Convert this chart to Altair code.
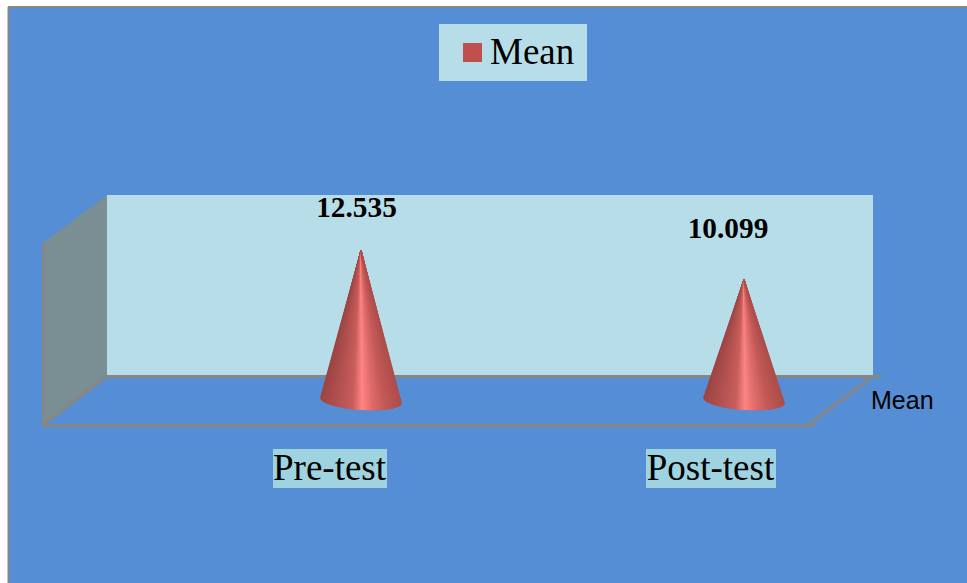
import altair as alt
import numpy as np
import pandas as pd

# Chart values
categories = ["Pre-test", "Post-test"]
means = [12.535, 10.099]
value_labels = ["12.535", "10.099"]
series_name = "Mean"

W, H = 967, 583
BLUE = "#558ed5"
PALE = "#b7dee8"
LABEL_BG = "#9fd3e0"
GREY = "#868686"
SIDE = "#7a8f94"
RED = "#c0504d"
SERIF = "Liberation Serif"

PX_PER_CAT = 383.0
PX_PER_UNIT = 12.0

shade_stops = [0.0, 0.2, 0.4, 0.52, 0.64, 0.8, 1.0]
shade_colors = ["#9c4544", "#b25250", "#ca5f5d", "#ff8585", "#e06e6d", "#c45a58", "#ae4e4c"]


def base_outline(t, depth=0.78, tilt=0.22):
    """Front edge of the elliptical base, in value units, for t in [-1, 1]."""
    return -tilt * t - depth * np.sqrt(1 - t**2)


def cone_outline(index, value, half_width=0.1057):
    """Silhouette of a cone: apex at the value, base around zero."""
    t = np.linspace(-1, 1, 81)
    rim = -0.22 * t
    return pd.DataFrame({
        "pos": index + t * half_width,
        "top": value * (1 - np.abs(t)) + rim * np.abs(t),
        "bottom": base_outline(t),
    })


def cone_fan(index, value, half_width=0.1057, n=260):
    """Lines fanning from the apex to the base, shaded by position around the cone."""
    t = np.linspace(-1, 1, n)
    return pd.DataFrame({
        "apex_pos": float(index),
        "apex_val": value,
        "foot_pos": index + t * half_width,
        "foot_val": base_outline(t),
        "shade": (t + 1) / 2,
    })


x_scale = alt.Scale(domain=[22 / PX_PER_CAT, 989 / PX_PER_CAT], range=[0, W], nice=False, zero=False)
y_scale = alt.Scale(
    domain=[(400.5 - H) / PX_PER_UNIT, 400.5 / PX_PER_UNIT], range=[H, 0], nice=False, zero=False
)
shade_scale = alt.Scale(domain=shade_stops, range=shade_colors, clamp=True)


def box(x0, x1, y0, y1, color):
    return alt.Chart().mark_rect(color=color).encode(
        x=alt.value(x0), x2=alt.value(x1), y=alt.value(y0), y2=alt.value(y1)
    )


def stroke(x0, y0, x1, y1, width=3):
    return alt.Chart().mark_rule(color=GREY, strokeWidth=width).encode(
        x=alt.value(x0), x2=alt.value(x1), y=alt.value(y0), y2=alt.value(y1)
    )


def caption(text, x, y, size, font=SERIF, weight="normal", align="center"):
    return alt.Chart().mark_text(
        text=text, font=font, fontSize=size, fontWeight=weight, align=align,
        baseline="alphabetic", color="black",
    ).encode(x=alt.value(x), y=alt.value(y))


# Slanted side wall, given directly in pixels
side_wall = alt.Chart(
    alt.Data(values=[{"x": 43, "y": 243, "y2": 425}, {"x": 107, "y": 195, "y2": 375}])
).mark_area(color=SIDE, interpolate="linear").encode(
    x=alt.X("x:Q", scale=None),
    y=alt.Y("y:Q", scale=None),
    y2=alt.Y2("y2:Q"),
)

backdrop = [
    box(0, W, 0, H, "white"),
    box(8, W, 7, H, BLUE),
    stroke(8, 7, W, 7, 2),
    stroke(8.5, 7, 8.5, H, 2),
    box(107, 873, 195, 375, PALE),
    side_wall,
    stroke(43, 243, 43, 426, 2),
    stroke(107, 376.5, 881, 376.5),
    stroke(43, 425.5, 815, 425.5),
    stroke(43, 425, 107, 376),
    stroke(808, 425, 873, 376),
    box(439, 587, 24, 81, PALE),
    box(463, 482, 43, 62, RED),
    caption(series_name, 490, 64, 37, align="left"),
    caption(series_name, 871, 409, 25, font="Liberation Sans", align="left"),
    box(273, 387, 449, 488, LABEL_BG),
    box(646, 776, 449, 488, LABEL_BG),
    caption(categories[0], 329.5, 480, 37),
    caption(categories[1], 710.5, 480, 37),
]

cones = []
for i, v in enumerate(means):
    cones.append(
        alt.Chart(cone_outline(i + 1, v)).mark_area(color=RED, interpolate="linear").encode(
            x=alt.X("pos:Q", scale=x_scale, axis=None),
            y=alt.Y("top:Q", scale=y_scale, axis=None),
            y2=alt.Y2("bottom:Q"),
        )
    )
    cones.append(
        alt.Chart(cone_fan(i + 1, v)).mark_rule(strokeWidth=1).encode(
            x=alt.X("apex_pos:Q", scale=x_scale, axis=None),
            y=alt.Y("apex_val:Q", scale=y_scale, axis=None),
            x2=alt.X2("foot_pos:Q"),
            y2=alt.Y2("foot_val:Q"),
            color=alt.Color("shade:Q", scale=shade_scale, legend=None),
        )
    )

# Value labels sit above each cone, each nudged by its own gap and sideways shift
label_gap_px = [33, 41]
label_shift_px = [-4.5, -16]
label_frame = pd.DataFrame({
    "pos": [1 + label_shift_px[0] / PX_PER_CAT, 2 + label_shift_px[1] / PX_PER_CAT],
    "mean": means,
    "label": value_labels,
    "gap": [g / PX_PER_UNIT for g in label_gap_px],
})
labels = alt.Chart(label_frame).transform_calculate(lift="datum.mean + datum.gap").mark_text(
    font=SERIF, fontSize=29.3, fontWeight="bold", baseline="alphabetic", align="center", color="black",
).encode(
    x=alt.X("pos:Q", scale=x_scale, axis=None),
    y=alt.Y("lift:Q", scale=y_scale, axis=None),
    text="label:N",
)

chart = alt.layer(*backdrop, *cones, labels).resolve_scale(
    x="independent", y="independent"
).properties(
    width=W, height=H, padding=0, autosize=alt.AutoSizeParams(type="none"), background="white",
).configure_view(stroke=None)

chart.save("out.html", embed_options={"renderer": "svg", "actions": False})
